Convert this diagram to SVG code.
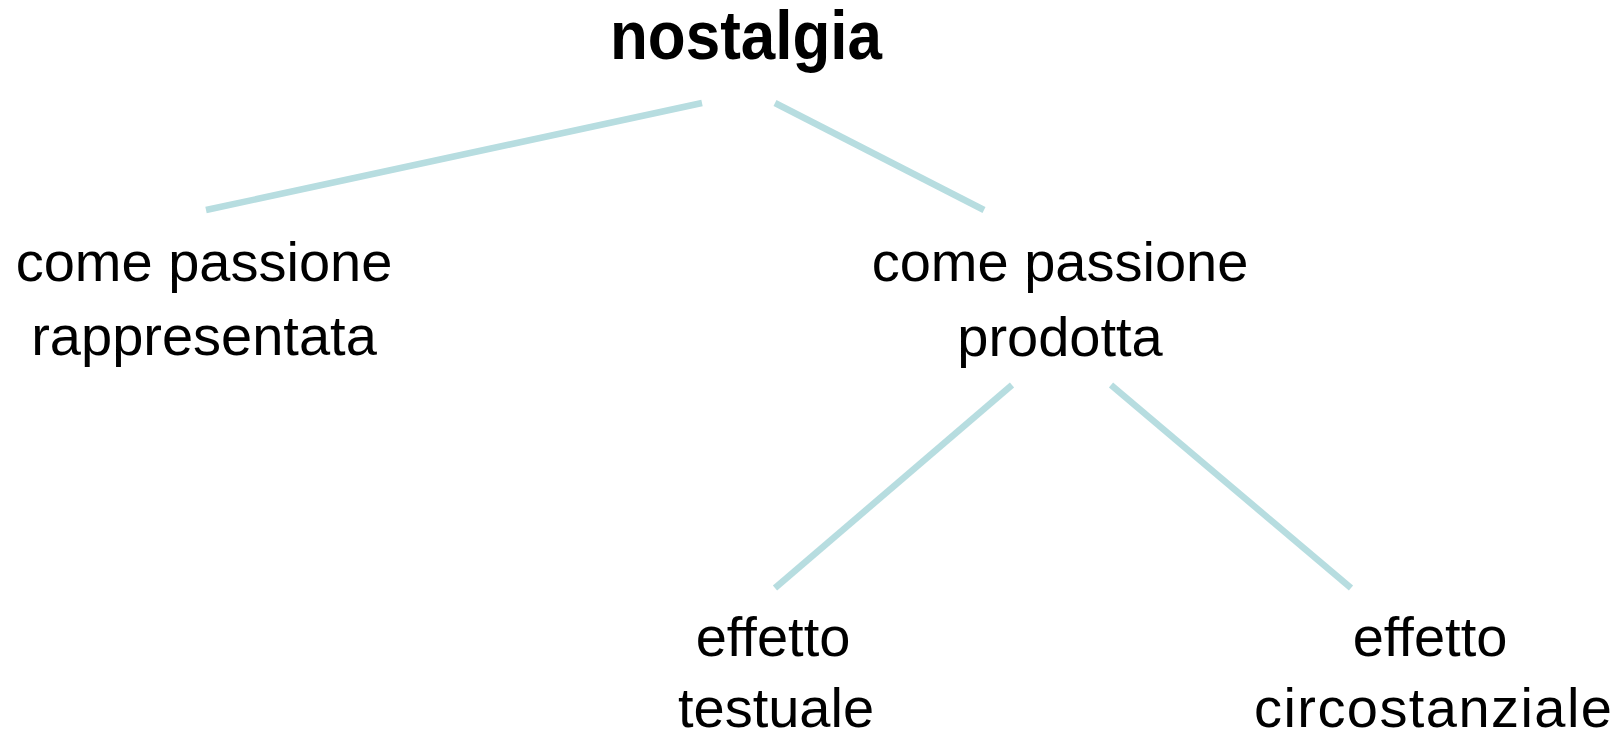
<svg xmlns="http://www.w3.org/2000/svg" width="1623" height="740" viewBox="0 0 1623 740">
<style>
.lbl{font-family:"Liberation Sans",Arial,sans-serif;font-size:56px;fill:#000;text-anchor:middle}
.title{font-family:"Liberation Sans",Arial,sans-serif;font-size:68px;font-weight:bold;fill:#000;text-anchor:middle}
.edge{stroke:#b7dde0;stroke-width:6.5;fill:none}
</style>
<rect width="1623" height="740" fill="#fff"/>
<g id="connectors">
<line class="edge" x1="206" y1="210" x2="702" y2="103"/>
<line class="edge" x1="775" y1="103" x2="984" y2="210"/>
<line class="edge" x1="1012" y1="385" x2="775" y2="588"/>
<line class="edge" x1="1111" y1="385" x2="1351" y2="588"/>
</g>
<g id="node-nostalgia">
<text class="title" x="746" y="59" textLength="272" lengthAdjust="spacingAndGlyphs">nostalgia</text>
</g>
<g id="node-rappresentata">
<text class="lbl" x="204" y="281">come passione</text>
<text class="lbl" x="204" y="355">rappresentata</text>
</g>
<g id="node-prodotta">
<text class="lbl" x="1060" y="281">come passione</text>
<text class="lbl" x="1060" y="356">prodotta</text>
</g>
<g id="node-testuale">
<text class="lbl" x="773" y="656">effetto</text>
<text class="lbl" x="776" y="727">testuale</text>
</g>
<g id="node-circostanziale">
<text class="lbl" x="1430" y="656">effetto</text>
<text class="lbl" x="1433" y="727" textLength="358" lengthAdjust="spacing">circostanziale</text>
</g>
</svg>
